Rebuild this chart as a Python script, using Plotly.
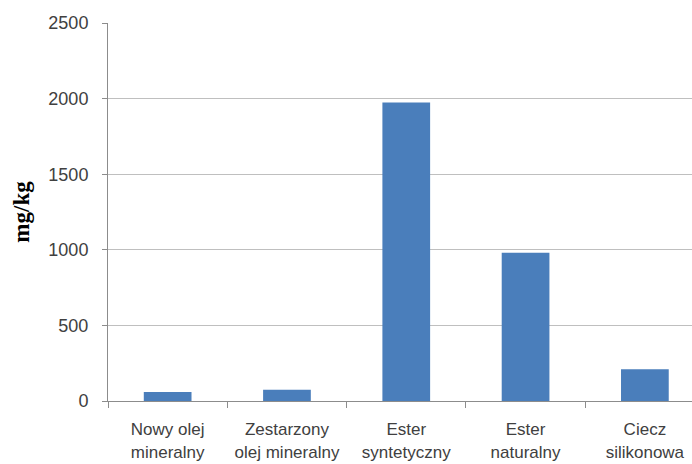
import plotly.graph_objects as go

categories = ["Nowy olej<br>mineralny", "Zestarzony<br>olej mineralny", "Ester<br>syntetyczny",
              "Ester<br>naturalny", "Ciecz<br>silikonowa"]
values = [60, 75, 1975, 980, 210]
y_ticks = [0, 500, 1000, 1500, 2000, 2500]

fig = go.Figure(go.Bar(x=categories, y=values, marker_color="#4a7ebb",
                       marker_line_width=0, width=0.4))

fig.update_layout(
    width=692, height=464,
    margin=dict(l=108, r=0, t=23, b=63),
    plot_bgcolor="white", paper_bgcolor="white",
    showlegend=False,
)
fig.update_xaxes(
    type="category", range=[-0.5, 4.395], automargin=False,
    showline=True, linecolor="#8c8c8c", linewidth=1,
    ticks="outside", tickson="boundaries", ticklen=6, tickcolor="#8c8c8c",
    tickfont=dict(family="Liberation Sans", size=17, color="#404040"),
    tickangle=0,
    ticklabelstandoff=13,
    showgrid=False,
)
fig.update_yaxes(
    range=[0, 2500], tickvals=y_ticks, automargin=False,
    showline=True, linecolor="#8c8c8c", linewidth=1,
    ticks="outside", ticklen=5, tickcolor="#8c8c8c",
    tickfont=dict(family="Liberation Sans", size=18, color="#404040"),
    ticklabelstandoff=10,
    showgrid=True, gridcolor="#bfbfbf", gridwidth=1,
    zeroline=False,
    title=dict(text="<b>mg/kg</b>", font=dict(family="Liberation Serif", size=23, color="#000000"),
               standoff=12),
)

fig.write_html("out.html")
